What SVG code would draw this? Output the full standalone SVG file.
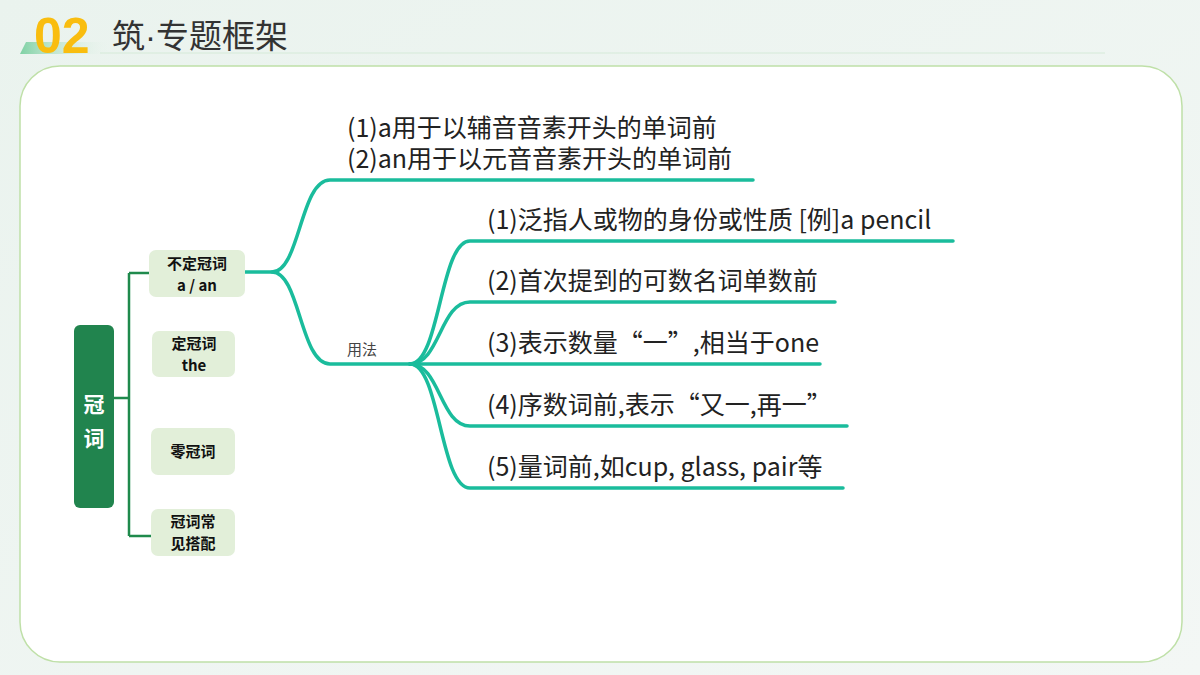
<svg xmlns="http://www.w3.org/2000/svg" width="1200" height="675" viewBox="0 0 1200 675">
<defs>
<linearGradient id="bg" x1="0" y1="0" x2="1" y2="1"><stop offset="0" stop-color="#eaf3ee"/><stop offset="1" stop-color="#f3f7f5"/></linearGradient>
<linearGradient id="bar" x1="0" y1="0" x2="1" y2="0"><stop offset="0" stop-color="#7fd1a4"/><stop offset="1" stop-color="#e6f3ea" stop-opacity="0"/></linearGradient>
<style>
.sub{fill:#e2efd9}
.st{font-family:"Noto Sans CJK SC",sans-serif;font-weight:bold;font-size:15px;fill:#111;text-anchor:middle}
.lf{font-family:"Noto Sans CJK SC",sans-serif;font-size:25px;fill:#222}
.t{fill:none;stroke:#1abc9c;stroke-width:3.5;stroke-linecap:round}
.g{fill:none;stroke:#1f8a4c;stroke-width:2.5}
</style>
</defs>
<rect width="1200" height="675" fill="url(#bg)"/>
<polygon points="26,42 110,42 108,54 20,54" fill="url(#bar)"/>
<line x1="100" y1="53" x2="1105" y2="53" stroke="#d5ead8" stroke-width="1"/>
<text x="34" y="53" font-family="Liberation Sans,sans-serif" font-weight="bold" font-size="50" fill="#f9bd0f">02</text>
<text x="112" y="48" font-family="Noto Sans CJK SC,sans-serif" font-size="33" fill="#333">筑<tspan font-family="Liberation Sans,sans-serif">·</tspan>专题框架</text>
<rect x="20" y="66" width="1162" height="596" rx="40" fill="#fff" stroke="#bfe0a8" stroke-width="1.5"/>
<g id="connectors">
<path class="g" d="M114,398 H129 M129,273 V536 M129,273 H149 M129,536 H151"/>
<path class="t" d="M245,272 H272 C300,272 300,180 330,180 H753"/>
<path class="t" d="M272,272 C300,272 300,364 330,364 H410"/>
<path class="t" d="M410,364 C440,364 440,241 470,241 H953"/>
<path class="t" d="M410,364 C440,364 440,302 470,302 H835"/>
<path class="t" d="M410,364 H820"/>
<path class="t" d="M410,364 C440,364 440,426 470,426 H847"/>
<path class="t" d="M410,364 C440,364 440,488 470,488 H843"/>
</g>
<g id="root"><rect x="74" y="325" width="40" height="183" rx="6" fill="#21844e"/>
<text x="94" y="412" font-family="Noto Sans CJK SC,sans-serif" font-weight="bold" font-size="21" fill="#fff" text-anchor="middle">冠</text>
<text x="94" y="446" font-family="Noto Sans CJK SC,sans-serif" font-weight="bold" font-size="21" fill="#fff" text-anchor="middle">词</text></g>
<g id="n1"><rect class="sub" x="149" y="250" width="96" height="47" rx="7"/><text class="st" x="197" y="269">不定冠词</text><text class="st" x="197" y="291">a / an</text></g>
<g id="n2"><rect class="sub" x="152" y="331" width="83" height="46" rx="7"/><text class="st" x="194" y="349">定冠词</text><text class="st" x="194" y="371">the</text></g>
<g id="n3"><rect class="sub" x="151" y="428" width="84" height="47" rx="7"/><text class="st" x="193" y="457">零冠词</text></g>
<g id="n4"><rect class="sub" x="151" y="509" width="84" height="47" rx="7"/><text class="st" x="193" y="527">冠词常</text><text class="st" x="193" y="549">见搭配</text></g>
<g id="yongfa"><text x="347" y="355" font-family="Noto Sans CJK SC,sans-serif" font-size="15" fill="#444">用法</text></g>
<g id="l0"><text class="lf" x="347" y="137">(1)a用于以辅音音素开头的单词前</text><text class="lf" x="347" y="168">(2)an用于以元音音素开头的单词前</text></g>
<g id="l1"><text class="lf" x="487" y="229">(1)泛指人或物的身份或性质 [例]a pencil</text></g>
<g id="l2"><text class="lf" x="487" y="290">(2)首次提到的可数名词单数前</text></g>
<g id="l3"><text class="lf" x="487" y="352">(3)表示数量“一”,相当于one</text></g>
<g id="l4"><text class="lf" x="487" y="414">(4)序数词前,表示“又一,再一”</text></g>
<g id="l5"><text class="lf" x="487" y="476">(5)量词前,如cup, glass, pair等</text></g>
</svg>
